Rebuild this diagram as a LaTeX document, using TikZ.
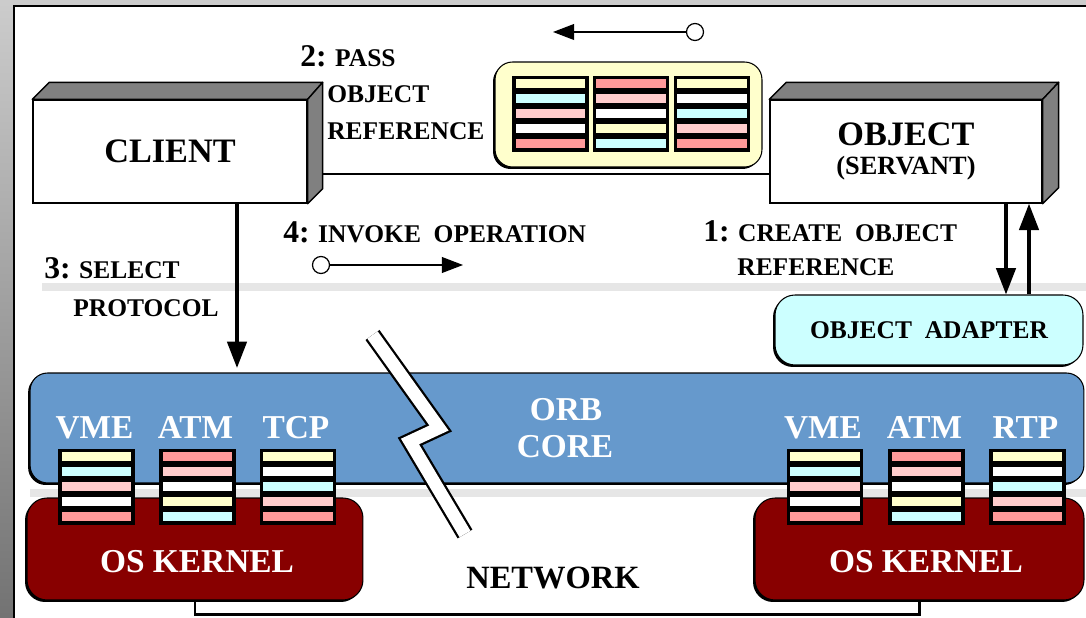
\documentclass[tikz,border=0pt]{standalone}
\usepackage{fontspec}
\setmainfont{Liberation Serif}
\usetikzlibrary{arrows.meta, positioning, calc, shadows}
\definecolor{orbblue}{RGB}{102,153,204}
\definecolor{kernelred}{RGB}{136,0,0}
\definecolor{paleyellow}{RGB}{255,255,204}
\definecolor{palecyan}{RGB}{204,255,255}
\definecolor{palepink}{RGB}{255,204,204}
\definecolor{salmon}{RGB}{255,153,153}
\definecolor{bandgray}{RGB}{230,230,230}
\newcommand{\stepnum}[1]{{\fontsize{18}{20}\selectfont #1}}

\begin{document}
\begin{tikzpicture}[
  x=0.02cm, y=-0.02cm,
  every node/.style={font=\bfseries},
  face/.style={draw=black, fill=black!50, line width=0.8pt, line join=round},
  frontbox/.style={rectangle, draw=black, fill=white, line width=0.8pt, minimum width=5.48cm,
                   minimum height=2.06cm, inner sep=0pt, align=center,
                   font=\fontsize{19.5}{21}\selectfont\bfseries},
  roundbox/.style={rectangle, rounded corners=0.35cm, draw=black, line width=0.6pt, inner sep=0pt,
                   drop shadow={shadow xshift=-0.04cm, shadow yshift=-0.04cm, opacity=1, fill=black}},
  stackbox/.style={rectangle, fill=black, minimum width=1.54cm, minimum height=1.52cm, inner sep=0pt},
  wlabel/.style={text=white, anchor=base, inner sep=0pt, font=\fontsize{19}{21}\selectfont\bfseries},
  note/.style={anchor=base west, inner sep=0pt, font=\fontsize{14.5}{16}\selectfont\bfseries},
  ring/.style={circle, draw=black, fill=white, line width=0.7pt, minimum size=0.34cm, inner sep=0pt},
  bigarrow/.style={line width=2pt, -{Triangle[length=15pt, width=11pt]}},
  smallarrow/.style={line width=0.7pt, -{Triangle[length=12pt, width=9pt]}}
]
  \useasboundingbox (0,0) rectangle (1086,618);

  % frame
  \shade[top color=black!20, bottom color=black!55] (0,0) rectangle (14,618);
  \fill[black!20] (0,0) rectangle (1086,6);
  \fill[white] (14,6) rectangle (1086,618);
  \draw[line width=1pt] (14,618) -- (14,6) -- (1086,6);

  % gray bands
  \fill[bandgray] (42,283) rectangle (1086,291);
  \fill[bandgray] (30,489) rectangle (1086,497);

  % ORB and kernels
  \node[roundbox, fill=orbblue, minimum width=21.08cm, minimum height=2.2cm] (orb) at (557,428) {};
  \node[roundbox, fill=kernelred, rounded corners=0.4cm, minimum width=6.72cm, minimum height=2.04cm] (lkernel) at (195,549) {};
  \node[roundbox, fill=kernelred, rounded corners=0.4cm, minimum width=6.58cm, minimum height=2.04cm] (rkernel) at (919.5,549) {};
  \draw[line width=1.4pt] (lkernel.south) -- ++(0,14) -| (rkernel.south);

  % break in the network
  \draw[line width=9.8pt, line cap=butt] (372.5,335) -- (439,428) -- (410,441.5) -- (465,534);
  \draw[line width=7.2pt, line cap=butt, white] (372.5,335) -- (439,428) -- (410,441.5) -- (465,534);

  % client and servant
  \node[frontbox] (client) at (170,151.5) {CLIENT};
  \filldraw[face] (client.north west) -- ++(17,-17) -- ($(client.north east)+(15,-17)$) -- (client.north east) -- cycle;
  \filldraw[face] (client.north east) -- ++(15,-17) -- ($(client.south east)+(15,-15)$) -- (client.south east) -- cycle;

  \node[frontbox, minimum width=5.44cm] (servant) at (906,151.5)
    {OBJECT\\[-4pt]{\fontsize{15}{16}\selectfont (SERVANT)}};
  \filldraw[face] (servant.north west) -- ++(17,-17) -- ($(servant.north east)+(16,-17)$) -- (servant.north east) -- cycle;
  \filldraw[face] (servant.north east) -- ++(16,-17) -- ($(servant.south east)+(16,-16)$) -- (servant.south east) -- cycle;

  \draw[line width=0.8pt] ([shift={(15,22.5)}]client.east) -- ([shift={(0,22.5)}]servant.west);

  % object reference and adapter
  \node[roundbox, fill=paleyellow, minimum width=5.34cm, minimum height=2.1cm] (refbox) at (628.5,114.5) {};
  \node[roundbox, fill=palecyan, rounded corners=0.4cm, minimum width=6.16cm, minimum height=1.4cm,
        font=\fontsize{14.5}{16}\selectfont\bfseries] (adapter) at (929,330) {OBJECT\ \ ADAPTER};

  % protocol stacks
  \foreach \nm/\cx/\cols in {rs1/550.5/{paleyellow,palecyan,palepink,white,salmon},
                             rs2/631/{salmon,palepink,white,paleyellow,palecyan},
                             rs3/712/{paleyellow,white,palecyan,palepink,salmon}}{
    \node[stackbox] (\nm) at (\cx,114) {};
    \foreach \c [count=\i] in \cols
      \fill[\c] ($(\nm.north west)+(4,15*\i-12)$) rectangle ($(\nm.north east)+(-4,15*\i-3)$);
  }
  \foreach \nm/\cx/\lab/\cols in {lvme/96.5/VME/{paleyellow,palecyan,palepink,white,salmon},
                                  latm/197.5/ATM/{salmon,palepink,white,paleyellow,palecyan},
                                  ltcp/298/TCP/{paleyellow,white,palecyan,palepink,salmon},
                                  rvme/825/VME/{paleyellow,palecyan,palepink,white,salmon},
                                  ratm/926.5/ATM/{salmon,palepink,white,paleyellow,palecyan},
                                  rrtp/1027.5/RTP/{paleyellow,white,palecyan,palepink,salmon}}{
    \node[stackbox] (\nm) at (\cx,487) {};
    \foreach \c [count=\i] in \cols
      \fill[\c] ($(\nm.north west)+(4,15*\i-12)$) rectangle ($(\nm.north east)+(-4,15*\i-3)$);
    \node[wlabel] (\nm-lab) at ($(\nm.north)+(-2,-10)$) {\lab};
  }

  % arrows
  \coordinate (selpt) at (237,368);
  \draw[bigarrow] (client.south -| selpt) -- (selpt);
  \coordinate (dnpt) at (1006,0);
  \coordinate (uppt) at (1029,0);
  \draw[bigarrow] (servant.south -| dnpt) -- (adapter.north -| dnpt);
  \draw[bigarrow] (adapter.north -| uppt) -- (servant.south -| uppt);

  \node[ring] (o2) at (695,32) {};
  \coordinate (a2) at (553,32);
  \draw[smallarrow] (o2) -- (a2);
  \node[ring] (o4) at (321,265) {};
  \coordinate (a4) at (463,265);
  \draw[smallarrow] (o4) -- (a4);

  % texts
  \node[wlabel] (orbtxt) at (566,420) {ORB};
  \node[wlabel] (coretxt) at (565,458) {CORE};
  \node[wlabel] (lktxt) at (197,572) {OS KERNEL};
  \node[wlabel] (rktxt) at (926,572) {OS KERNEL};
  \node[anchor=base, inner sep=0pt, font=\fontsize{18.5}{20}\selectfont\bfseries] (net) at (553,588) {NETWORK};

  \node[note] (n2) at (300,67) {\stepnum{2:} PASS};
  \node[note] (n2b) at (327,103) {OBJECT};
  \node[note] (n2c) at (327,140) {REFERENCE};
  \node[note] (n4) at (283,243) {\stepnum{4:} INVOKE\ \ OPERATION};
  \node[note] (n1) at (703,242) {\stepnum{1:} CREATE\ \ OBJECT};
  \node[note] (n1b) at (737,276) {REFERENCE};
  \node[note] (n3) at (44,279) {\stepnum{3:} SELECT};
  \node[note] (n3b) at (73,317) {PROTOCOL};
\end{tikzpicture}
\end{document}
